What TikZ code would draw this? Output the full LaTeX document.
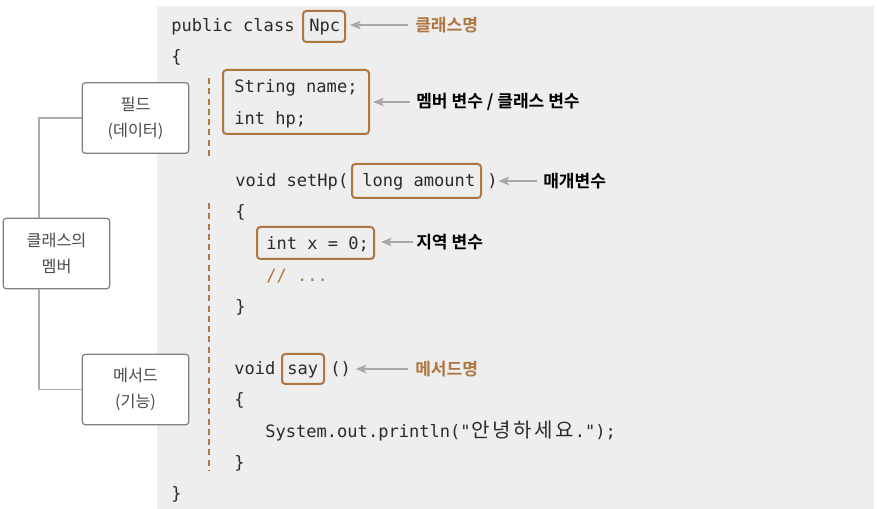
\documentclass[tikz,border=0pt]{standalone}
\usepackage{fontspec}
\setmonofont{DejaVu Sans Mono}
\newfontfamily\kr[BoldFont={Noto Sans CJK KR Bold}]{Noto Sans CJK KR}
\usetikzlibrary{arrows.meta,fit}
\definecolor{bgc}{HTML}{EEEEEE}
\definecolor{brn}{HTML}{AE7640}
\definecolor{codec}{HTML}{2A2A2A}
\definecolor{agray}{HTML}{A8A8A8}
\definecolor{bgray}{HTML}{808080}
\definecolor{lgray}{HTML}{ABABAB}
\definecolor{ktext}{HTML}{4A4A4A}
\newcommand\kc[1]{\makebox[15.6pt]{\kr\fontsize{15}{16}\selectfont #1}}
\begin{document}
\begin{tikzpicture}[x=0.75pt,y=-0.75pt,
  code/.style={anchor=base west, inner sep=0pt, text=codec, font=\ttfamily\fontsize{12.8}{15}\selectfont},
  hl/.style={draw=brn, line width=1.5pt, rounded corners=2.5pt, inner sep=0pt},
  lbl/.style={anchor=west, inner sep=0pt, font=\kr\bfseries\fontsize{12.8}{14}\selectfont},
  arr/.style={draw=agray, line width=1.2pt, -{Stealth[length=8pt,width=6.5pt,inset=2pt]}},
  lbox/.style={draw=bgray, line width=0.9pt, fill=white, rounded corners=2.5pt, align=center, text=ktext,
    font=\kr\fontsize{12.2}{19.5}\selectfont, minimum width=80pt, minimum height=53pt, inner sep=0pt},
  conn/.style={draw=lgray, line width=1pt},
  dashln/.style={draw=brn, line width=1.6pt, dash pattern=on 4.5pt off 3.2pt}]
\useasboundingbox (0,0) rectangle (878,509);
\fill[bgc] (157,6) rectangle (874,509);

% left member boxes
\node[lbox] (field) at (135.5,118) {필드\\(데이터)};
\node[lbox] (member) at (56.5,253.5) {클래스의\\멤버};
\node[lbox] (method) at (135.5,389.5) {메서드\\(기능)};
\draw[conn] ([xshift=-13.1pt]member.north) |- (field.west);
\draw[conn] ([xshift=-13.1pt]member.south) |- (method.west);

% dashed markers
\draw[dashln] (209,78) -- (209,160);
\draw[dashln] (209,203) -- (209,471);

% code
\node[code] (c1) at (171,32) {public class};
\node[code] (npct) at (309,32) {Npc};
\node[hl, fit={(303,11) (345,42)}] (npcbox) {};
\node[code] (c2) at (171,63) {\{};
\node[code] (c3) at (234,93) {String name;};
\node[code] (c4) at (234,125) {int hp;};
\node[hl, fit={(223,70) (369,134)}] (fieldbox) {};
\node[code] (c5) at (235,187) {void setHp(};
\node[code] (c6) at (362,187) {long amount};
\node[hl, fit={(352,164) (481,198)}] (parbox) {};
\node[code] (rp) at (487,187) {)};
\node[code] (c7) at (235,218) {\{};
\node[code] (c8) at (266,250) {int x = 0;};
\node[hl, fit={(257,227) (374,259)}] (locbox) {};
\node[code, text=brn] (c9) at (266,282) {// ...};
\node[code] (c10) at (235,313) {\}};
\node[code] (c11) at (234,375) {void};
\node[code] (c12) at (287,375) {say};
\node[hl, fit={(282,354) (324,384)}] (saybox) {};
\node[code] (pp) at (330,375) {()};
\node[code] (c13) at (234,406) {\{};
\node[code] (c14) at (265,437) {System.out.println("\kc{안}\kc{녕}\kc{하}\kc{세}\kc{요}.");};
\node[code] (c15) at (234,468) {\}};
\node[code] (c16) at (171,499) {\}};

% labels
\node[lbl, text=brn] (a1) at (415,25) {클래스명};
\node[lbl, text=black] (a2) at (416,102) {멤버 변수 / 클래스 변수};
\node[lbl, text=black] (a3) at (543,181) {매개변수};
\node[lbl, text=black] (a4) at (416,242) {지역 변수};
\node[lbl, text=brn] (a5) at (415,369) {메서드명};

\draw[arr, shorten <=5pt, shorten >=3pt] (a1.west) -- (a1.west -| npcbox.east);
\draw[arr, shorten <=4.5pt, shorten >=2.3pt] (a2.west) -- (a2.west -| fieldbox.east);
\draw[arr, shorten <=4.5pt, shorten >=0.5pt] (a3.west) -- (a3.west -| rp.east);
\draw[arr, shorten <=2.5pt, shorten >=4.5pt] (a4.west) -- (a4.west -| locbox.east);
\draw[arr, shorten <=5pt, shorten >=3.5pt] (a5.west) -- (a5.west -| pp.east);
\end{tikzpicture}
\end{document}
